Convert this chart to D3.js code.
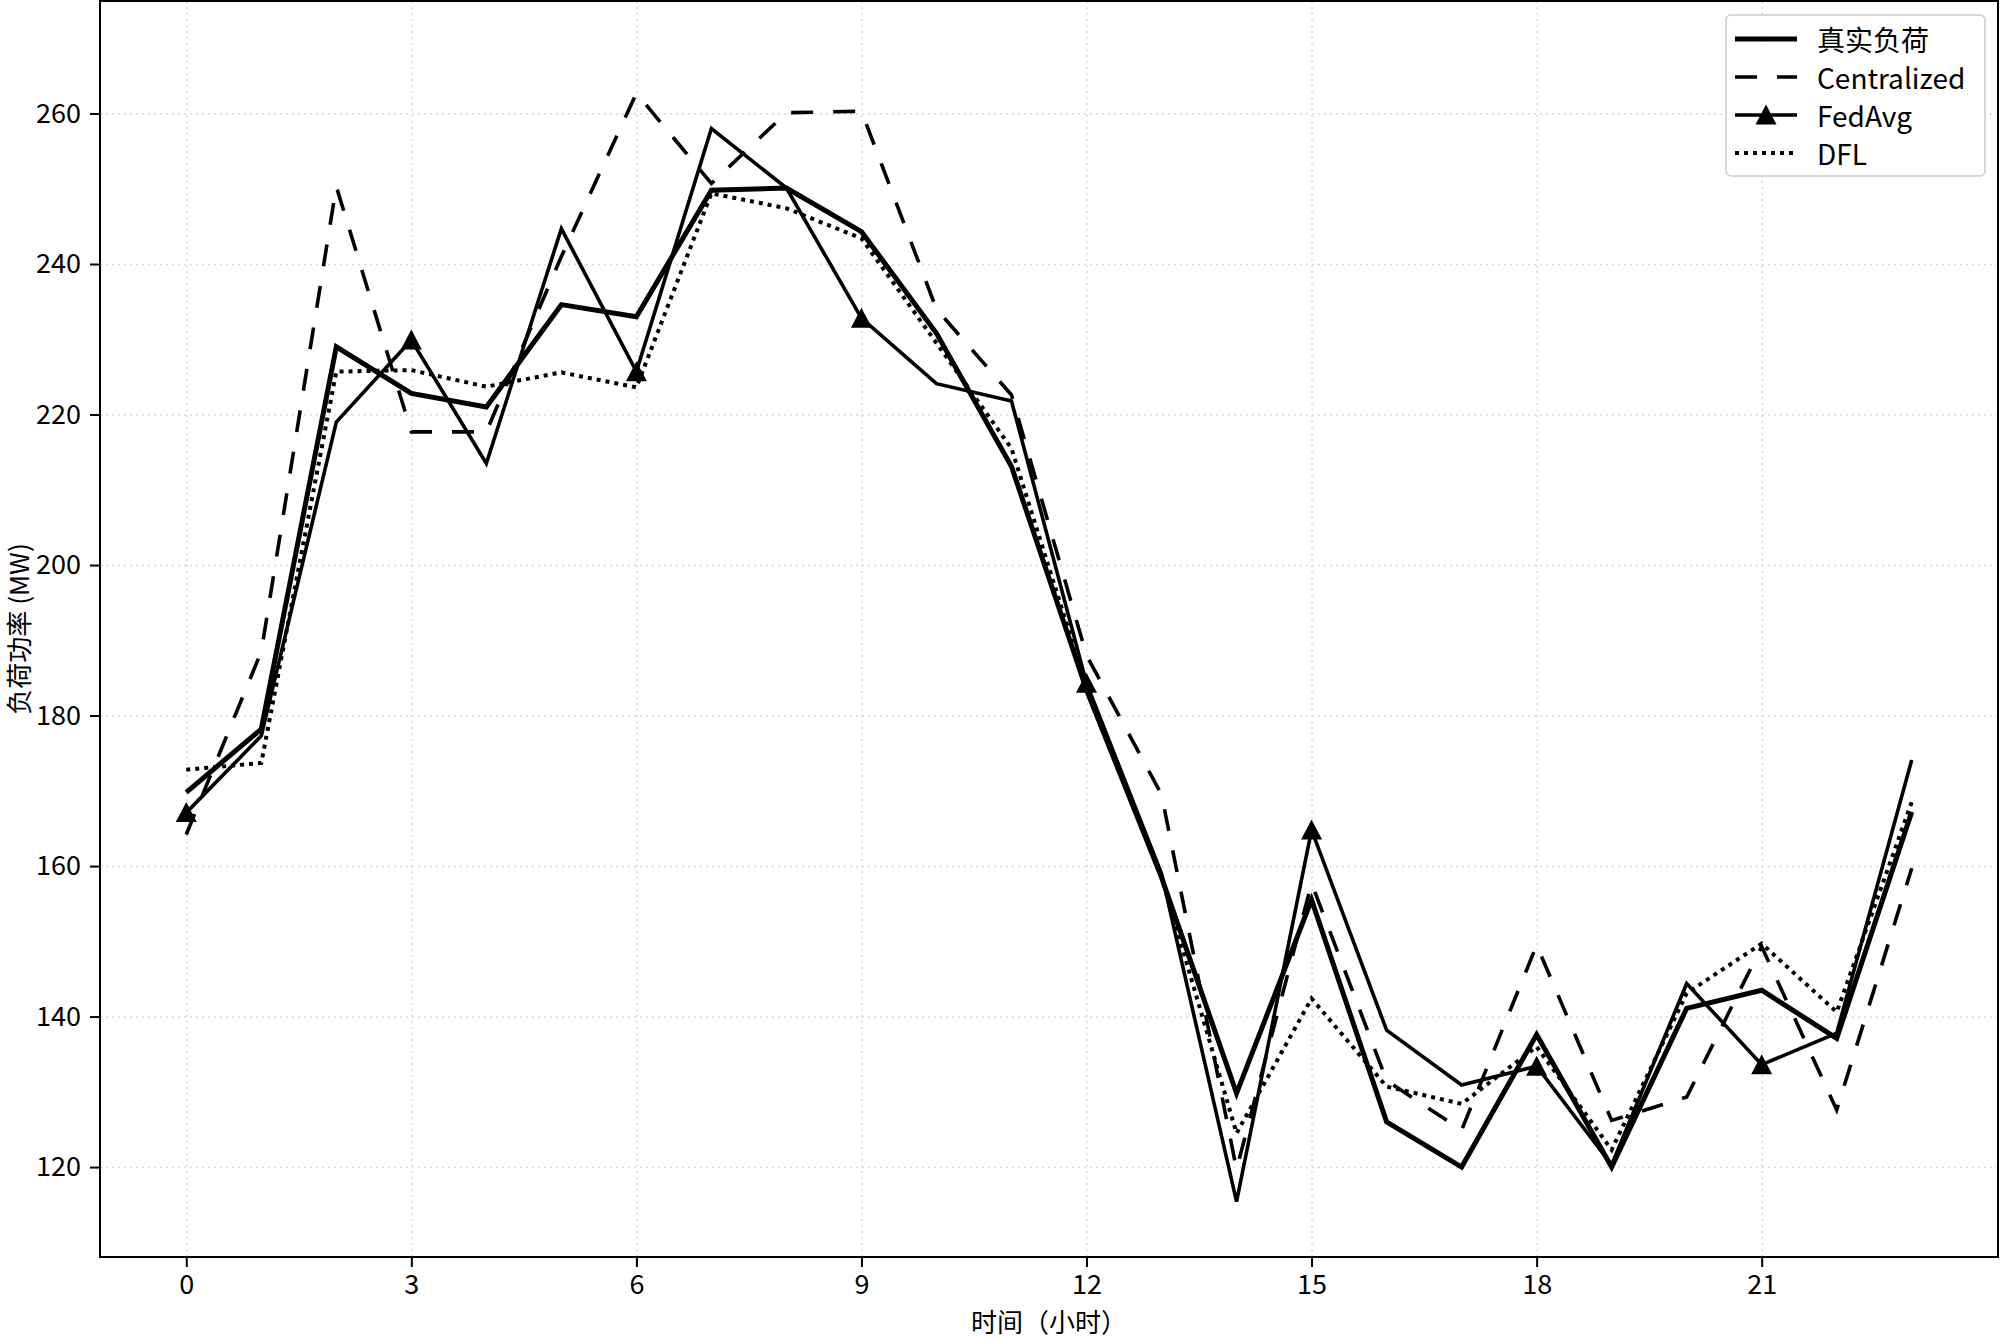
<!DOCTYPE html>
<html>
<head>
<meta charset="utf-8">
<script src="https://cdn.jsdelivr.net/npm/d3@7/dist/d3.min.js"></script>
<style>
  body { margin: 0; background: #fff; }
  text { font-family: "Noto Sans CJK SC", "Noto Sans", sans-serif; fill: #000; }
</style>
</head>
<body>
<div id="container"></div>
<script>
// data
const hours = [0, 1, 2, 3, 4, 5, 6, 7, 8, 9, 10, 11, 12, 13, 14, 15, 16, 17, 18, 19, 20, 21, 22, 23];

const trueLoad = [169.8, 178.2, 229.0, 222.8, 221.0, 234.6, 233.0, 249.8, 250.1, 244.3, 230.8, 213.1,
                  183.4, 158.5, 129.8, 155.5, 126.0, 120.0, 137.6, 120.0, 141.1, 143.5, 137.1, 167.2];
const centralized = [164.2, 188.5, 250.3, 217.7, 217.7, 241.0, 262.7, 250.7, 260.1, 260.3, 234.0, 222.6,
                     188.0, 169.5, 119.7, 157.7, 131.5, 124.9, 149.5, 126.2, 129.3, 149.3, 127.6, 159.7];
const fedAvg = [167.1, 177.3, 219.0, 229.9, 213.5, 244.7, 225.7, 258.0, 250.1, 232.8, 224.1, 221.8,
                184.3, 159.0, 115.4, 164.8, 138.2, 130.9, 133.4, 120.3, 144.4, 133.6, 137.8, 174.1];
const dfl = [172.8, 173.7, 225.7, 225.9, 223.7, 225.6, 223.6, 249.4, 247.4, 243.4, 229.5, 215.5,
             183.8, 158.5, 124.5, 142.4, 130.7, 128.4, 136.0, 122.3, 143.1, 149.7, 140.6, 168.5];

const seriesNames = ["真实负荷", "Centralized", "FedAvg", "DFL"];
const xTicks = [0, 3, 6, 9, 12, 15, 18, 21];
const yTicks = [120, 140, 160, 180, 200, 220, 240, 260];
const xLabel = "时间（小时）";
const yLabel = "负荷功率 (MW)";

const W = 2000, H = 1338;
const margin = { top: 1, right: 2, bottom: 81, left: 100 },
    width = W - margin.left - margin.right,
    height = H - margin.top - margin.bottom;

const svg = d3.select("#container")
    .append("svg")
    .attr("width", W)
    .attr("height", H);

const g = svg.append("g")
    .attr("transform", `translate(${margin.left}, ${margin.top})`);

const x = d3.scaleLinear().domain([-1.15, 24.15]).range([0, width]);
const y = d3.scaleLinear().domain([108.05, 274.95]).range([height, 0]);

// grid
g.append("g")
    .attr("transform", `translate(0, ${height})`)
    .call(d3.axisBottom(x).tickValues(xTicks).tickSize(-height).tickFormat(""))
    .call(a => a.select(".domain").remove())
    .selectAll("line")
    .attr("stroke", "#d9d9d9")
    .attr("stroke-width", 1.5)
    .attr("stroke-dasharray", "2,4");
g.append("g")
    .call(d3.axisLeft(y).tickValues(yTicks).tickSize(-width).tickFormat(""))
    .call(a => a.select(".domain").remove())
    .selectAll("line")
    .attr("stroke", "#d9d9d9")
    .attr("stroke-width", 1.5)
    .attr("stroke-dasharray", "2,4");

// series
const line = d3.line()
    .x((d, i) => x(hours[i]))
    .y(d => y(d));

const styles = [
    { data: trueLoad, width: 5, dash: null },
    { data: centralized, width: 3.6, dash: "22,20" },
    { data: fedAvg, width: 3.6, dash: null },
    { data: dfl, width: 4, dash: "4,5" }
];

styles.forEach(s => {
    g.append("path")
        .datum(s.data)
        .attr("fill", "none")
        .attr("stroke", "#000")
        .attr("stroke-width", s.width)
        .attr("stroke-linejoin", "miter")
        .attr("stroke-dasharray", s.dash)
        .attr("d", line);
});

// triangle markers on FedAvg, every third point
const tri = "M0,-10.5L10.5,9.5L-10.5,9.5Z";
g.selectAll(".marker")
    .data(fedAvg.filter((d, i) => i % 3 === 0))
    .enter()
    .append("path")
    .attr("class", "marker")
    .attr("d", tri)
    .attr("fill", "#000")
    .attr("transform", (d, i) => `translate(${x(hours[i * 3])}, ${y(d)})`);

// axes
const xAxis = g.append("g")
    .attr("transform", `translate(0, ${height})`)
    .call(d3.axisBottom(x).tickValues(xTicks).tickSize(10).tickPadding(8));
const yAxis = g.append("g")
    .call(d3.axisLeft(y).tickValues(yTicks).tickSize(10).tickPadding(9));
[xAxis, yAxis].forEach(a => {
    a.select(".domain").remove();
    a.selectAll("line").attr("stroke", "#000").attr("stroke-width", 2);
    a.selectAll("text").style("font-size", "27px").attr("fill", "#000");
});

// frame
g.append("rect")
    .attr("width", width)
    .attr("height", height)
    .attr("fill", "none")
    .attr("stroke", "#000")
    .attr("stroke-width", 2);

// axis labels
svg.append("text")
    .attr("x", margin.left + width / 2)
    .attr("y", 1320)
    .attr("text-anchor", "middle")
    .attr("dominant-baseline", "central")
    .style("font-size", "26px")
    .text(xLabel);
svg.append("text")
    .attr("transform", `translate(17, ${margin.top + height / 2}) rotate(-90)`)
    .attr("text-anchor", "middle")
    .attr("dominant-baseline", "central")
    .style("font-size", "26px")
    .text(yLabel);

// legend
const legend = svg.append("g").attr("transform", "translate(1726, 15)");
legend.append("rect")
    .attr("width", 259)
    .attr("height", 161)
    .attr("rx", 5)
    .attr("fill", "#fff")
    .attr("fill-opacity", 0.8)
    .attr("stroke", "#cccccc")
    .attr("stroke-width", 1.5);

const rows = legend.selectAll(".row")
    .data(styles)
    .enter()
    .append("g")
    .attr("class", "row")
    .attr("transform", (d, i) => `translate(0, ${24 + i * 38})`);
rows.append("line")
    .attr("x1", 9)
    .attr("x2", 71)
    .attr("stroke", "#000")
    .attr("stroke-width", d => d.width)
    .attr("stroke-dasharray", d => d.dash);
rows.filter((d, i) => i === 2)
    .append("path")
    .attr("d", tri)
    .attr("fill", "#000")
    .attr("transform", "translate(40, 0)");
rows.append("text")
    .attr("x", 91)
    .attr("dominant-baseline", "central")
    .style("font-size", "28px")
    .text((d, i) => seriesNames[i]);
</script>
</body>
</html>
